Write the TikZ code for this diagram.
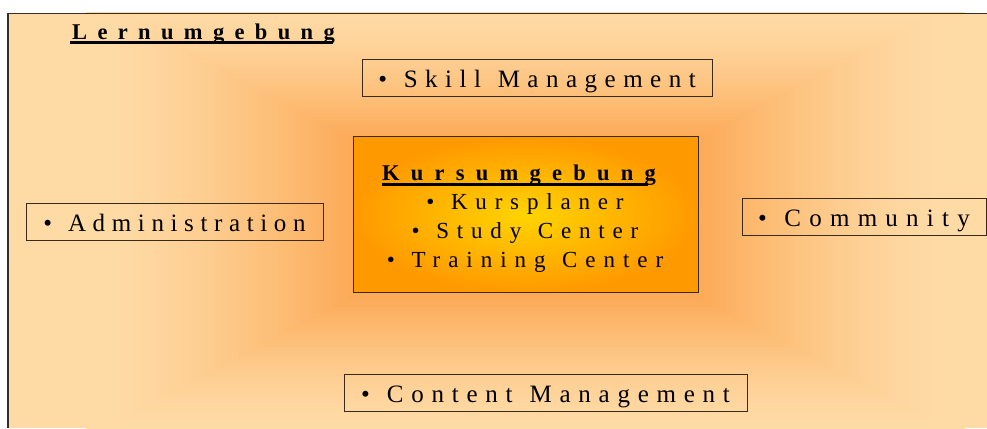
\documentclass[tikz,border=0pt]{standalone}
\usepackage{fontspec}
\setmainfont{Liberation Serif}
% letter tracking in hundredths of an em
\newcommand{\trk}[1]{\addfontfeature{LetterSpace=#1}}
% extra width added to each word gap
\newcommand{\gap}{\hspace{3pt}}

\definecolor{peach}{RGB}{254,218,165}
\definecolor{glow}{RGB}{252,166,80}
\definecolor{kin}{RGB}{255,212,0}
\definecolor{kout}{RGB}{255,153,0}
\definecolor{edge}{RGB}{58,42,26}
\definecolor{frameline}{RGB}{50,46,42}

\tikzset{
  itembox/.style={draw=edge, line width=1pt, inner xsep=0pt, inner ysep=0pt,
    text height=28pt, text depth=9pt, font=\fontsize{25}{28}\selectfont},
  corebox/.style={draw=edge, line width=1pt, inner sep=0pt,
    shading=radial, inner color=kin, outer color=kout},
  coretext/.style={inner sep=0pt, anchor=base, font=\fontsize{23}{29}\selectfont},
  headtext/.style={inner sep=0pt, anchor=base west, font=\fontsize{22.5}{29}\selectfont\bfseries},
  ulin/.style={line width=2.6pt, black},
}

\begin{document}
\begin{tikzpicture}[x=1pt, y=1pt]
\useasboundingbox (0,0) rectangle (987,428);

% learning environment panel with a soft orange glow around the centre
\begin{scope}
  \clip (8,0) rectangle (987,415);
  \fill[peach] (8,0) rectangle (987,415);
  \foreach \i in {0,...,70}{
    \pgfmathsetmacro\t{1.15*(1-\i/70)}
    \pgfmathsetmacro\m{92*pow(max(0.0001,1-\t/1.05),1.4)}
    \fill[glow!\m!peach] ({525-175-230*\t},{210-80-122*\t}) rectangle ({525+175+230*\t},{210+80+122*\t});
  }
\end{scope}
\draw[frameline, line width=2pt] (8.3,0) -- (8.3,414.5);
\draw[frameline, line width=1.5pt] (7.3,414.5) -- (987,414.5);

% panel title
\node[headtext] (lern) at (72,388) {\trk{46}Lernumgebung};
\draw[ulin] ([xshift=-2pt,yshift=-2.7pt]lern.base west) -- ([xshift=-2pt,yshift=-2.7pt]lern.base east);

% surrounding modules
\node[itembox, minimum width=350pt] (skill) at (537,349.5) {\trk{30}• \gap Skill \gap Management};
\node[itembox, minimum width=297pt] (admin) at (174.5,205.5) {\trk{26.5}• \gap Administration};
\node[itembox, minimum width=244pt] (comm) at (864,210.5) {\trk{33}• \gap Community};
\node[itembox, minimum width=403pt] (content) at (545.5,34.5) {\trk{31}• \gap Content \gap Management};

% course environment in the centre
\node[corebox, minimum width=345pt, minimum height=156pt] (kurs) at (525.5,213) {};
\node[headtext] (khead) at (382,247) {\trk{50}Kursumgebung};
\node[coretext, anchor=base west] (kcolon) at ([xshift=-8pt]khead.base east) {:};
\draw[ulin, line width=3pt] ([yshift=-3.3pt]khead.base west) -- ([xshift=-8pt,yshift=-3.3pt]khead.base east);
\node[coretext] (kplan) at (525,218) {\trk{34}• \gap Kursplaner};
\node[coretext] (kstudy) at (525,189) {\trk{34}• \gap Study \gap Center};
\node[coretext] (ktrain) at (525,160) {\trk{34.5}• \gap Training \gap Center};
\end{tikzpicture}
\end{document}
